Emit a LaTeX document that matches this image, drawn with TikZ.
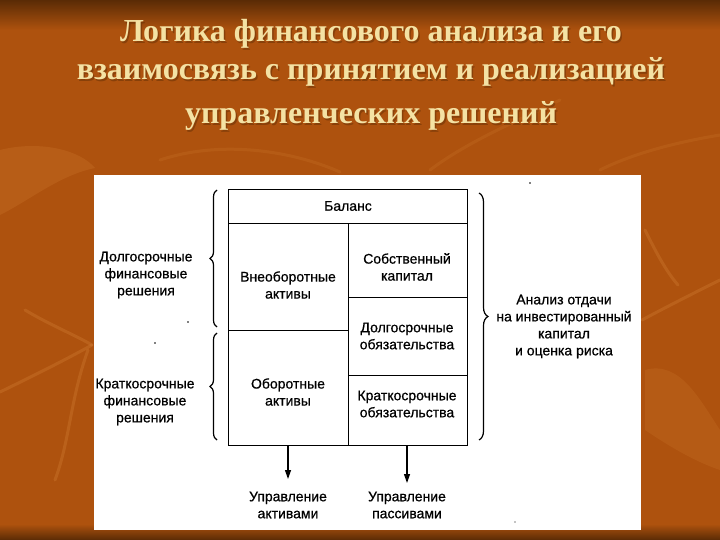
\documentclass[tikz,border=0pt]{standalone}
\usepackage{fontspec}
\setmainfont{Liberation Sans}
\newfontfamily\diafont{Liberation Sans}[FakeBold=0.6]
\newfontfamily\titlefont{Liberation Serif}
\usetikzlibrary{decorations.pathreplacing,arrows.meta}
\definecolor{bgmain}{HTML}{AE520E}
\definecolor{bgdark}{HTML}{5A2B05}
\definecolor{bglight}{HTML}{D9853A}
\definecolor{titlecol}{HTML}{F4E2A4}
\begin{document}
\begin{tikzpicture}[x=1pt,y=-1pt,
  lbl/.style={font=\diafont\fontsize{14}{17}\selectfont, align=center, inner sep=0pt, text=black},
  ttl/.style={font=\titlefont\bfseries\fontsize{32}{36}\selectfont, text=titlecol, inner sep=0pt, anchor=base},
  ttlsh/.style={font=\titlefont\bfseries\fontsize{32}{36}\selectfont, text=bgdark, opacity=0.45, inner sep=0pt, anchor=base},
  cell/.style={draw=black, line width=1.2pt, inner sep=0pt, anchor=north west},
  bracestyle/.style={draw=black, line width=1.2pt, decorate, decoration={brace, amplitude=#1}},
  arr/.style={draw=black, line width=1.2pt, -{Triangle[length=9pt,width=6pt]}},
  streak/.style={draw=bglight, opacity=0.3, line width=3pt, line cap=round}]
\useasboundingbox (0,0) rectangle (720,540);
% background
\fill[bgmain] (0,0) rectangle (720,540);
\shade[top color=bgdark, bottom color=bgmain] (0,0) rectangle (720,30);
\shade[top color=bgmain, bottom color=bgdark] (0,524) rectangle (720,540);
\fill[bglight, opacity=0.22] (0,150) .. controls (40,140) and (80,150) .. (95,168) .. controls (60,175) and (30,200) .. (0,215) -- cycle;
\draw[streak] (25,310) .. controls (50,325) and (75,335) .. (92,345);
\draw[streak] (0,392) .. controls (35,375) and (65,360) .. (92,345);
\draw[streak] (88,350) .. controls (70,400) and (70,440) .. (55,480);
\draw[streak] (645,230) .. controls (655,250) and (665,270) .. (678,285);
\draw[streak] (642,320) .. controls (670,305) and (700,290) .. (720,280);
\fill[bglight, opacity=0.18] (645,370) .. controls (680,360) and (700,400) .. (720,430) -- (720,470) .. controls (690,460) and (660,440) .. (645,430) -- cycle;
\draw[streak, opacity=0.18] (160,160) .. controls (220,140) and (290,150) .. (340,172);
\draw[streak, opacity=0.18] (430,170) .. controls (470,140) and (520,120) .. (560,100);
\draw[streak, opacity=0.18] (600,170) .. controls (640,150) and (690,140) .. (720,135);
% white panel
\fill[white] (94,175) rectangle (641,530);
% title (shadow, then text)
\node[ttlsh] (s1) at (372.5,43.5) {Логика финансового анализа и его};
\node[ttlsh] (s2) at (372.5,81.5) {взаимосвязь с принятием и реализацией};
\node[ttlsh] (s3) at (372.5,125.5) {управленческих решений};
\node[ttl] (t1) at (371,42) {Логика финансового анализа и его};
\node[ttl] (t2) at (371,80) {взаимосвязь с принятием и реализацией};
\node[ttl] (t3) at (371,124) {управленческих решений};
% cells
\node[cell, minimum width=239pt, minimum height=34pt] (bal) at (228,189) {};
\node[cell, minimum width=120pt, minimum height=107pt] (vneob) at (228,223) {};
\node[cell, minimum width=120pt, minimum height=115pt] (obor) at (228,330) {};
\node[cell, minimum width=119pt, minimum height=74pt] (sobst) at (348,223) {};
\node[cell, minimum width=119pt, minimum height=78pt] (dolg) at (348,297) {};
\node[cell, minimum width=119pt, minimum height=70pt] (krat) at (348,375) {};
% cell texts
\node[lbl] (tbal) at (348,206) {Баланс};
\node[lbl] (tvneob) at (288,285) {Внеоборотные\\активы};
\node[lbl] (tobor) at (288,392) {Оборотные\\активы};
\node[lbl] (tsobst) at (407,267) {Собственный\\капитал};
\node[lbl] (tdolg) at (407,336) {Долгосрочные\\обязательства};
\node[lbl] (tkrat) at (407,404) {Краткосрочные\\обязательства};
% side labels
\node[lbl] (ldolg) at (146,275) {Долгосрочные\\финансовые\\решения};
\node[lbl] (lkrat) at (145,402) {Краткосрочные\\финансовые\\решения};
\node[lbl] (ranal) at (564,326.5) {Анализ отдачи\\на инвестированный\\капитал\\и оценка риска};
% braces
\draw[bracestyle=7pt] (217,327) -- (217,190);
\draw[bracestyle=7pt] (217,440) -- (217,333);
\draw[bracestyle=9pt] (479,193) -- (479,440);
% bottom labels and arrows
\node[lbl] (uakt) at (288,505) {Управление\\активами};
\node[lbl] (upas) at (407,505) {Управление\\пассивами};
\coordinate (a1) at (288,479);
\coordinate (a2) at (407,483);
\draw[arr] (obor.south -| a1) -- (a1);
\draw[arr] (krat.south -| a2) -- (a2);
% scan specks
\fill[black] (530,183) circle (0.9);
\fill[black] (188,322) circle (0.8);
\fill[black] (155,343) circle (0.9);
\fill[black] (515,522) circle (0.7);
\end{tikzpicture}
\end{document}
